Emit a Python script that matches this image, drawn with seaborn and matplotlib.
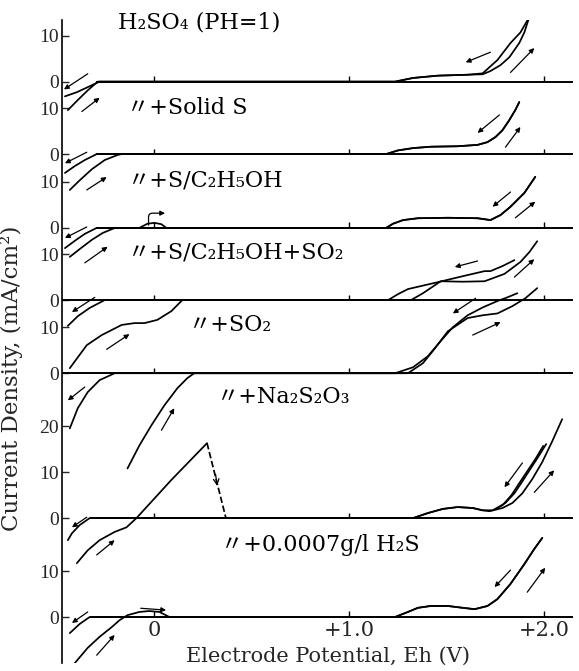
import numpy as np
import matplotlib
matplotlib.use("Agg")
import matplotlib.pyplot as plt
import seaborn as sns

# ---------------- data (potential in V, current density in mA/cm2) ----------------
panel_labels = ["H₂SO₄ (PH=1)", "〃+Solid S", "〃+S/C₂H₅OH", "〃+S/C₂H₅OH+SO₂",
                "〃+SO₂", "〃+Na₂S₂O₃", "〃+0.0007g/l H₂S"]
panel_yticks = [[0, 10], [0, 10], [0, 10], [0, 10], [0, 10], [0, 10, 20], [0, 10]]
x_ticks = [0.0, 1.0, 2.0]
x_ticklabels = ["0", "+1.0", "+2.0"]

# H2SO4 (pH=1)
h2so4_fwd_v = [-0.444, -0.393, -0.342, -0.291, 1.235, 1.327, 1.454, 1.607, 1.684, 1.724, 1.776, 1.821, 1.872, 1.898, 1.923]
h2so4_fwd_i = [-6.2, -4.0, -1.9, 0.0, 0.0, 0.8, 1.3, 1.5, 1.6, 2.3, 3.6, 5.3, 8.4, 10.7, 14.0]
h2so4_rev_v = [1.923, 1.878, 1.827, 1.760, 1.684, 1.607, 1.454, 1.327, 1.235, -0.281, -0.342, -0.398, -0.459]
h2so4_rev_i = [14.0, 10.7, 8.4, 4.7, 1.8, 1.5, 1.3, 0.8, 0.0, 0.0, -1.2, -2.3, -3.2]

# + solid S
solid_s_fwd_v = [-0.434, -0.383, -0.321, -0.255, -0.189, -0.168, 1.189, 1.250, 1.327, 1.418, 1.556, 1.658, 1.709, 1.750, 1.786, 1.821, 1.852, 1.872]
solid_s_fwd_i = [-7.8, -5.7, -3.3, -1.3, -0.2, 0.0, 0.0, 0.8, 1.3, 1.6, 1.7, 2.0, 2.6, 3.7, 5.2, 7.4, 9.6, 11.3]
solid_s_rev_v = [1.872, 1.852, 1.821, 1.786, 1.750, 1.709, 1.658, 1.556, 1.418, 1.327, 1.250, 1.189, -0.296, -0.357, -0.408, -0.459]
solid_s_rev_i = [11.3, 9.6, 7.4, 5.2, 3.7, 2.6, 2.0, 1.7, 1.6, 1.3, 0.8, 0.0, 0.0, -1.3, -2.6, -4.1]

# + S / C2H5OH
s_etoh_fwd_v = [-0.434, -0.383, -0.321, -0.265, -0.214, -0.199, -0.077, -0.036, 0.0, 0.036, 0.061,
                1.189, 1.224, 1.276, 1.352, 1.505, 1.658, 1.724, 1.776, 1.827, 1.898, 1.954]
s_etoh_fwd_i = [-6.3, -4.6, -2.6, -1.1, -0.2, 0.0, 0.0, 0.9, 1.1, 0.8, 0.0,
                0.0, 0.9, 1.7, 2.1, 2.2, 2.1, 1.7, 2.8, 4.6, 7.6, 11.1]
s_etoh_rev_v = [1.954, 1.898, 1.827, 1.776, 1.724, 1.658, 1.505, 1.352, 1.276, 1.224, 1.189, -0.296, -0.357, -0.408, -0.459]
s_etoh_rev_i = [11.1, 7.6, 4.6, 2.8, 1.7, 2.1, 2.2, 2.1, 1.7, 0.9, 0.0, 0.0, -1.3, -2.8, -4.4]

# + S / C2H5OH + SO2
s_etoh_so2_fwd_v = [-0.434, -0.347, -0.270, -0.168, -0.102, -0.051, 0.015, 0.087, 0.143,
                    1.316, 1.378, 1.469, 1.582, 1.694, 1.796, 1.878, 1.923, 1.964]
s_etoh_so2_fwd_i = [-14.8, -9.8, -7.6, -5.4, -5.0, -5.0, -4.3, -2.4, 0.0,
                    0.0, 1.5, 4.1, 4.0, 4.1, 5.7, 8.3, 10.4, 12.8]
s_etoh_so2_rev_v = [1.847, 1.786, 1.724, 1.694, 1.582, 1.454, 1.301, 1.250, 1.199, -0.255, -0.332, -0.393, -0.444]
s_etoh_so2_rev_i = [8.7, 7.4, 6.3, 6.3, 5.2, 3.9, 2.4, 1.3, 0.0, 0.0, -1.7, -3.5, -5.6]

# + SO2
so2_fwd_v = [-0.138, -0.077, -0.015, 0.051, 0.117, 0.168, 0.204,
             1.301, 1.378, 1.439, 1.505, 1.607, 1.684, 1.760, 1.837, 1.903, 1.964]
so2_fwd_i = [-20.7, -15.7, -11.3, -7.0, -3.3, -1.1, 0.0,
             0.0, 2.2, 5.4, 9.1, 12.0, 12.6, 13.0, 14.6, 16.3, 18.5]
so2_rev_v = [1.862, 1.811, 1.760, 1.684, 1.607, 1.531, 1.469, 1.403, 1.327, 1.235, -0.204, -0.281, -0.342, -0.393, -0.434]
so2_rev_i = [17.4, 16.5, 15.7, 14.3, 12.6, 10.0, 7.0, 3.7, 1.3, 0.0, 0.0, -1.5, -4.1, -7.6, -12.0]

# + Na2S2O3
na2s2o3_fwd_v = [-0.398, -0.342, -0.281, -0.204, -0.143, -0.092, 0.087, 0.270]
na2s2o3_fwd_i = [-9.8, -7.0, -4.8, -3.0, -2.0, 0.0, 8.3, 16.3]
na2s2o3_drop_v = [0.270, 0.367]
na2s2o3_drop_i = [16.3, 0.0]
na2s2o3_fwd2_v = [0.367, 1.327, 1.403, 1.480, 1.556, 1.633, 1.684, 1.719, 1.786, 1.837, 1.888, 1.939, 1.990, 2.041, 2.092]
na2s2o3_fwd2_i = [0.0, 0.0, 1.1, 2.0, 2.4, 2.2, 1.7, 1.5, 2.2, 3.3, 5.4, 8.5, 12.2, 16.7, 21.5]
na2s2o3_rev_v = [1.995, 1.954, 1.913, 1.872, 1.832, 1.786, 1.735, 1.684, 1.633, 1.556, 1.480, 1.403, 1.327, -0.332, -0.383, -0.423, -0.444]
na2s2o3_rev_i = [15.7, 12.8, 10.2, 7.6, 5.0, 2.8, 1.7, 1.7, 2.2, 2.4, 2.0, 1.1, 0.0, 0.0, -1.5, -3.3, -4.8]
na2s2o3_rev2_v = [2.010, 1.969, 1.929, 1.888, 1.847, 1.801, 1.750]
na2s2o3_rev2_i = [16.1, 13.3, 10.7, 8.0, 5.4, 3.3, 2.0]

# + 0.0007 g/l H2S
h2s_fwd_v = [-0.408, -0.342, -0.281, -0.219, -0.179, -0.138, -0.077, -0.026, 0.026, 0.077,
             1.235, 1.301, 1.352, 1.418, 1.505, 1.582, 1.643, 1.709, 1.760, 1.827, 1.898, 1.949, 1.990]
h2s_fwd_i = [-10.0, -6.7, -4.3, -2.2, -0.7, 0.4, 1.1, 1.3, 1.1, 0.0,
             0.0, 1.1, 2.0, 2.4, 2.4, 2.0, 1.7, 2.4, 3.9, 7.2, 11.5, 14.8, 17.2]
h2s_rev_v = [1.990, 1.949, 1.898, 1.827, 1.760, 1.709, 1.643, 1.582, 1.505, 1.418, 1.352, 1.301, 1.235, -0.332, -0.383, -0.434]
h2s_rev_i = [17.2, 14.8, 11.5, 7.2, 3.9, 2.4, 1.7, 2.0, 2.4, 2.4, 2.0, 1.1, 0.0, 0.0, -1.5, -3.5]

# ---------------- layout ----------------
XMIN, XMAX = -0.474, 2.163
YMIN, YMAX = -10.0, 129.8
offsets = [116.4, 100.65, 84.6, 68.9, 53.0, 21.5, 0.0]          # vertical shift of each trace
base_start = [-0.30, -0.30, -0.30, XMIN, XMIN, -0.33, -0.33]     # where each zero line begins
base_end = 2.15
label_pos = [(-0.189, 129.3), (-0.138, 110.7), (-0.138, 94.8), (-0.138, 79.3),
             (0.179, 63.5), (0.321, 47.8), (0.342, 15.7)]

curves = [  # (panel, v, i, linestyle)
    (0, h2so4_fwd_v, h2so4_fwd_i, "-"), (0, h2so4_rev_v, h2so4_rev_i, "-"),
    (1, solid_s_fwd_v, solid_s_fwd_i, "-"), (1, solid_s_rev_v, solid_s_rev_i, "-"),
    (2, s_etoh_fwd_v, s_etoh_fwd_i, "-"), (2, s_etoh_rev_v, s_etoh_rev_i, "-"),
    (3, s_etoh_so2_fwd_v, s_etoh_so2_fwd_i, "-"), (3, s_etoh_so2_rev_v, s_etoh_so2_rev_i, "-"),
    (4, so2_fwd_v, so2_fwd_i, "-"), (4, so2_rev_v, so2_rev_i, "-"),
    (5, na2s2o3_fwd_v, na2s2o3_fwd_i, "-"), (5, na2s2o3_drop_v, na2s2o3_drop_i, "--"),
    (5, na2s2o3_fwd2_v, na2s2o3_fwd2_i, "-"), (5, na2s2o3_rev_v, na2s2o3_rev_i, "-"),
    (5, na2s2o3_rev2_v, na2s2o3_rev2_i, "-"),
    (6, h2s_fwd_v, h2s_fwd_i, "-"), (6, h2s_rev_v, h2s_rev_i, "-"),
]

# sweep-direction arrows: (panel, v_start, i_start, v_end, i_end)
arrows = [
    (0, -0.342, 1.7, -0.464, -1.7), (0, -0.372, -6.5, -0.281, -3.5),
    (0, 1.724, 6.4, 1.597, 4.2), (0, 1.827, 2.0, 1.949, 7.3),
    (1, -0.347, 0.4, -0.459, -2.0), (1, -0.347, -7.8, -0.245, -5.0),
    (1, 1.770, 8.5, 1.658, 4.6), (1, 1.801, 1.5, 1.878, 5.9),
    (2, -0.347, 0.2, -0.459, -2.2), (2, -0.357, -7.6, -0.240, -4.1),
    (2, 1.827, 7.8, 1.735, 4.6), (2, 1.852, 2.2, 1.954, 5.7),
    (3, -0.306, 0.6, -0.423, -2.6), (3, -0.245, -10.7, -0.128, -7.4),
    (3, 1.658, 8.5, 1.541, 7.2), (3, 1.847, 5.0, 1.949, 8.9),
    (4, -0.357, -3.0, -0.444, -5.9), (4, 0.036, -12.4, 0.102, -7.6),
    (4, 1.648, 16.3, 1.531, 13.0), (4, 1.633, 8.3, 1.776, 11.1),
    (5, -0.347, 0.2, -0.423, -2.0), (5, -0.296, -8.0, -0.204, -4.8),
    (5, 1.888, 12.0, 1.796, 6.7), (5, 1.949, 5.6, 2.051, 10.4),
    (6, -0.342, 1.1, -0.423, -1.3), (6, -0.296, -8.3, -0.204, -3.9),
    (6, -0.070, 1.9, 0.060, 1.5),
    (6, 1.827, 10.2, 1.745, 6.5), (6, 1.913, 5.4, 2.005, 10.7),
]

# ---------------- plotting ----------------
sns.set_theme(style="white")
SERIF_WIDE = ["DejaVu Serif", "Noto Sans CJK JP"]
SERIF_NARROW = ["Liberation Serif", "DejaVu Serif"]
plt.rcParams["font.family"] = SERIF_WIDE
plt.rcParams["axes.unicode_minus"] = False

fig = plt.figure(figsize=(5.79, 6.71), dpi=100)
ax = fig.add_axes([62 / 579, 8 / 671, 514 / 579, 643 / 671])

LW = 1.25
for k, off in enumerate(offsets):
    ax.hlines(off, base_start[k], base_end, color="black", lw=1.4, zorder=2)
    ax.vlines(x_ticks, off, off + 1.2, color="black", lw=1.0, zorder=2)

for p, v, i, ls in curves:
    sns.lineplot(x=np.asarray(v), y=np.asarray(i) + offsets[p], sort=False, estimator=None,
                 color="black", lw=LW, linestyle=ls, ax=ax, zorder=3)

for p, v0, i0, v1, i1 in arrows:
    ax.annotate("", xy=(v1, i1 + offsets[p]), xytext=(v0, i0 + offsets[p]),
                arrowprops=dict(arrowstyle="-|>", lw=0.9, color="black", mutation_scale=7,
                                shrinkA=0, shrinkB=0))

# curved arrow above the small hump (S/C2H5OH) and arrowhead on the dashed drop (Na2S2O3)
ax.annotate("", xy=(0.055, 3.2 + offsets[2]), xytext=(-0.030, 0.6 + offsets[2]),
            arrowprops=dict(arrowstyle="-|>", lw=0.9, color="black", mutation_scale=7,
                            connectionstyle="angle,angleA=90,angleB=0,rad=4", shrinkA=0, shrinkB=0))
ax.annotate("", xy=(0.322, 7.0 + offsets[5]), xytext=(0.314, 9.5 + offsets[5]),
            arrowprops=dict(arrowstyle="->", lw=0.9, color="black", mutation_scale=10,
                            shrinkA=0, shrinkB=0))

for txt, (tx, ty) in zip(panel_labels, label_pos):
    ax.text(tx, ty, txt, fontsize=16, va="center", ha="left", color="black",
            family=SERIF_WIDE)

# y ticks
ytick_pos, ytick_lab = [], []
for off, ticks in zip(offsets, panel_yticks):
    for t in ticks:
        ytick_pos.append(off + t)
        ytick_lab.append(str(t))
ax.set_yticks(ytick_pos)
ax.set_yticklabels(ytick_lab, fontsize=14, family=SERIF_NARROW)
ax.tick_params(axis="y", direction="in", length=5, width=1.0, pad=2, left=True)

# x ticks on the lowest baseline
ax.spines["bottom"].set_position(("data", 0.0))
ax.spines["bottom"].set_visible(False)
ax.set_xticks(x_ticks)
ax.set_xticklabels(x_ticklabels, fontsize=15, family=SERIF_WIDE)
ax.tick_params(axis="x", length=0, pad=3, bottom=True)

for s in ["top", "right"]:
    ax.spines[s].set_visible(False)
ax.spines["left"].set_linewidth(1.2)
ax.spines["left"].set_color("black")

ax.set_xlim(XMIN, XMAX)
ax.set_ylim(YMIN, YMAX)
ax.set_xlabel("Electrode Potential, Eh (V)", fontsize=15, family=SERIF_WIDE)
ax.xaxis.set_label_coords(0.518, 0.026)
ax.set_ylabel("Current Density, (mA/cm²)", fontsize=16.5, family=SERIF_WIDE)
ax.yaxis.set_label_coords(-0.076, 0.442)
ax.patch.set_alpha(0)

fig.savefig("out.png", dpi=100)
